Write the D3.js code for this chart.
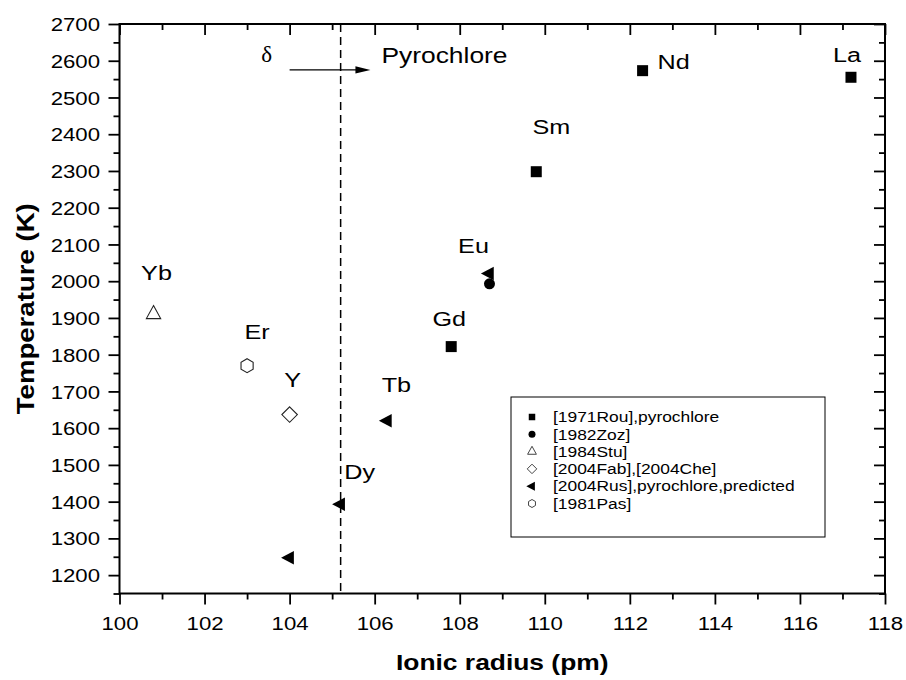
<!DOCTYPE html>
<html><head><meta charset="utf-8">
<script src="https://cdn.jsdelivr.net/npm/d3@7"></script>
<style>
html,body{margin:0;padding:0;background:#fff;}
svg{display:block;}
text{font-family:"Liberation Sans",Arial,sans-serif;fill:#000;}
</style></head><body>
<svg id="chart" width="906" height="680"></svg>
<script>
// Transition temperature (K) against ionic radius (pm), one pair of arrays per source
const rouRadius = [107.8, 109.8, 112.3, 117.2];
const rouTemp   = [1822, 2298, 2573, 2555];
const zozRadius = [108.7];
const zozTemp   = [1993];
const stuRadius = [100.8];
const stuTemp   = [1910];
const fabRadius = [104.0];
const fabTemp   = [1637];
const rusRadius = [108.7, 106.3, 105.2, 104.0];
const rusTemp   = [2021, 1620, 1393, 1247];
const pasRadius = [103.0];
const pasTemp   = [1770];

const legendLabels = ["[1971Rou],pyrochlore", "[1982Zoz]", "[1984Stu]",
                      "[2004Fab],[2004Che]", "[2004Rus],pyrochlore,predicted", "[1981Pas]"];

// element names and the point each one names: [source, index]
const elementNames = ["Yb", "Er", "Y", "Dy", "Tb", "Gd", "Eu", "Sm", "Nd", "La"];
const elementPoint = {Yb:["stu",0], Er:["pas",0], Y:["fab",0], Dy:["rus",2], Tb:["rus",1],
                      Gd:["rou",0], Eu:["rus",0], Sm:["rou",1], Nd:["rou",2], La:["rou",3]};

const boundaryRadius = 105.2;            // delta | pyrochlore boundary
const arrowRadius = [104.0, 105.9];      // arrow from/to
const arrowTemp = 2575;

const xTickValues = [100, 102, 104, 106, 108, 110, 112, 114, 116, 118];
const xMinorValues = [101, 103, 105, 107, 109, 111, 113, 115, 117];
const yTickValues = [1200, 1300, 1400, 1500, 1600, 1700, 1800, 1900, 2000,
                     2100, 2200, 2300, 2400, 2500, 2600, 2700];
const yMinorValues = [1150, 1250, 1350, 1450, 1550, 1650, 1750, 1850, 1950,
                      2050, 2150, 2250, 2350, 2450, 2550, 2650];

// ---- styling ----
const SX = 1.2;   // lettering is drawn a little wide
const series = [
  {key:"rou", label:legendLabels[0], r:rouRadius, t:zozTemp && rouTemp, shape:"square",  filled:true,  size:11,   lsize:6.5},
  {key:"zoz", label:legendLabels[1], r:zozRadius, t:zozTemp, shape:"circle",  filled:true,  size:11,   lsize:7},
  {key:"stu", label:legendLabels[2], r:stuRadius, t:stuTemp, shape:"triUp",   filled:false, size:13,   lsize:8},
  {key:"fab", label:legendLabels[3], r:fabRadius, t:fabTemp, shape:"diamond", filled:false, size:15.5, lsize:9.5},
  {key:"rus", label:legendLabels[4], r:rusRadius, t:rusTemp, shape:"triLeft", filled:true,  size:13.5, lsize:9},
  {key:"pas", label:legendLabels[5], r:pasRadius, t:pasTemp, shape:"hexagon", filled:false, size:14,   lsize:8}
];
const labelOffset = {Yb:[3,-34], Er:[10,-27], Y:[3,-28], Dy:[19,-25], Tb:[9,-29],
                     Gd:[-2,-21], Eu:[-16,-20], Sm:[15,-38], Nd:[31,-2], La:[-4,-15]};

const shapes = {
  square: s => `M${-s/2},${-s/2}h${s}v${s}h${-s}Z`,
  circle: s => { const r = s/2; return `M${r},0A${r},${r} 0 1,1 ${-r},0A${r},${r} 0 1,1 ${r},0Z`; },
  triUp: s => { const w = s*1.1, h = s; return `M0,${-2*h/3}L${w/2},${h/3}L${-w/2},${h/3}Z`; },
  triLeft: s => { const w = s*0.95, h = s; return `M${-2*w/3},0L${w/3},${-h/2}L${w/3},${h/2}Z`; },
  diamond: s => { const r = s/2; return `M0,${-r}L${r},0L0,${r}L${-r},0Z`; },
  hexagon: s => { const r = s/2; return d3.range(6).map(k => { const a = (-90 + 60*k)*Math.PI/180;
                   return (k ? "L" : "M") + (r*Math.cos(a)).toFixed(2) + "," + (r*Math.sin(a)).toFixed(2); }).join("") + "Z"; }
};

const svg = d3.select("#chart");
const x = d3.scaleLinear().domain([100, 118]).range([119.5, 885]);
const y = d3.scaleLinear().domain([1150, 2700]).range([593.5, 24]);

function stretch(sel, tx, ty) {
  return sel.attr("x", 0).attr("y", 0).attr("dy", null)
            .attr("transform", `translate(${tx},${ty}) scale(${SX},1)`);
}
function tidy(g) {
  g.attr("font-size", null).attr("font-family", null);
  g.select(".domain").remove();
  g.selectAll("line").attr("stroke", "#000").attr("stroke-width", 1.8);
}

// ---- axes ----
const gBottom = svg.append("g").attr("transform", `translate(0,${y(1150)})`)
  .call(d3.axisBottom(x).tickValues(xTickValues).tickSize(11).tickFormat(d3.format("d")));
tidy(gBottom);
gBottom.selectAll("text").style("font-size", "18.5px").each(function () { stretch(d3.select(this), 0, 36.5); });
svg.append("g").attr("transform", `translate(0,${y(1150)})`)
  .call(d3.axisBottom(x).tickValues(xMinorValues).tickSize(6).tickFormat("")).call(tidy);

const gLeft = svg.append("g").attr("transform", `translate(${x(100)},0)`)
  .call(d3.axisLeft(y).tickValues(yTickValues).tickSize(11).tickFormat(d3.format("d")));
tidy(gLeft);
gLeft.selectAll("text").style("font-size", "18.5px").each(function () { stretch(d3.select(this), -19.5, 6.6); });
svg.append("g").attr("transform", `translate(${x(100)},0)`)
  .call(d3.axisLeft(y).tickValues(yMinorValues).tickSize(6).tickFormat("")).call(tidy);

svg.append("g").attr("transform", `translate(0,${y(2700)})`)
  .call(d3.axisTop(x).tickValues(xTickValues).tickSize(-11).tickFormat("")).call(tidy);
svg.append("g").attr("transform", `translate(0,${y(2700)})`)
  .call(d3.axisTop(x).tickValues(xMinorValues).tickSize(-6).tickFormat("")).call(tidy);
svg.append("g").attr("transform", `translate(${x(118)},0)`)
  .call(d3.axisRight(y).tickValues(yTickValues).tickSize(-11).tickFormat("")).call(tidy);
svg.append("g").attr("transform", `translate(${x(118)},0)`)
  .call(d3.axisRight(y).tickValues(yMinorValues).tickSize(-6).tickFormat("")).call(tidy);

// frame
svg.append("rect")
  .attr("x", x(100)).attr("y", y(2700))
  .attr("width", x(118) - x(100)).attr("height", y(1150) - y(2700))
  .attr("fill", "none").attr("stroke", "#000").attr("stroke-width", 2);

// axis titles
stretch(svg.append("text").attr("text-anchor", "middle")
  .style("font-size", "22px").style("font-weight", "bold").text("Ionic radius (pm)"),
  (x(100) + x(118)) / 2, 670);
svg.append("text").attr("text-anchor", "middle")
  .style("font-size", "23px").style("font-weight", "bold").text("Temperature (K)")
  .attr("transform", `translate(34,${(y(1150) + y(2700)) / 2}) rotate(-90) scale(${SX},1)`);

// ---- boundary line and arrow ----
svg.append("line")
  .attr("x1", x(boundaryRadius)).attr("x2", x(boundaryRadius))
  .attr("y1", y(2700)).attr("y2", y(1150))
  .attr("stroke", "#000").attr("stroke-width", 1.5).attr("stroke-dasharray", "8,5");

const ax0 = x(arrowRadius[0]), ax1 = x(arrowRadius[1]), ay = y(arrowTemp);
svg.append("line").attr("x1", ax0).attr("x2", ax1 - 12).attr("y1", ay).attr("y2", ay)
  .attr("stroke", "#000").attr("stroke-width", 1.3);
svg.append("path").attr("d", `M${ax1},${ay}L${ax1 - 15},${ay - 3.6}L${ax1 - 15},${ay + 3.6}Z`).attr("fill", "#000");

svg.append("text").attr("text-anchor", "middle")
  .style("font-family", "'Liberation Serif','Times New Roman',serif").style("font-size", "23px")
  .text("δ").attr("x", ax0 - 23).attr("y", ay - 7.5);
stretch(svg.append("text").attr("text-anchor", "start").style("font-size", "22px").text("Pyrochlore"),
  ax1 + 11, ay - 7.3);

// ---- markers ----
const byKey = {};
series.forEach(s => {
  byKey[s.key] = s;
  svg.append("g").selectAll("path")
    .data(s.r.map((r, i) => ({r, t: s.t[i]})))
    .join("path")
    .attr("transform", d => `translate(${x(d.r)},${y(d.t)})`)
    .attr("d", shapes[s.shape](s.size))
    .attr("fill", s.filled ? "#000" : "none")
    .attr("stroke", s.filled ? "none" : "#222")
    .attr("stroke-width", 1.1);
});

// element names
elementNames.forEach(name => {
  const [k, i] = elementPoint[name];
  const s = byKey[k];
  const [dx, dy] = labelOffset[name];
  stretch(svg.append("text").attr("text-anchor", "middle").style("font-size", "21px").text(name),
    x(s.r[i]) + dx, y(s.t[i]) + dy);
});

// ---- legend ----
const lg = svg.append("g").attr("transform", "translate(511,397)");
lg.append("rect").attr("width", 314).attr("height", 140)
  .attr("fill", "#fff").attr("stroke", "#000").attr("stroke-width", 1);
series.forEach((s, i) => {
  const cy = 20 + i * 17.3;
  lg.append("path").attr("transform", `translate(21,${cy})`)
    .attr("d", shapes[s.shape](s.lsize))
    .attr("fill", s.filled ? "#000" : "none")
    .attr("stroke", s.filled ? "none" : "#444").attr("stroke-width", 1);
  stretch(lg.append("text").attr("text-anchor", "start").style("font-size", "14.5px").text(s.label),
    42, cy + 5.2);
});
</script>
</body></html>
